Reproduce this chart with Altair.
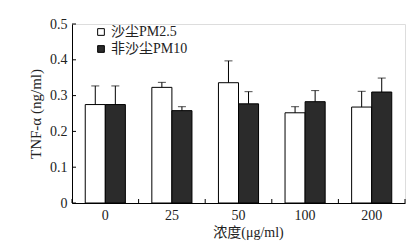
import altair as alt
import pandas as pd

categories = ["0", "25", "50", "100", "200"]
series = ["沙尘PM2.5", "非沙尘PM10"]
pm25_mean = [0.275, 0.323, 0.336, 0.252, 0.268]
pm25_sd = [0.052, 0.014, 0.061, 0.017, 0.044]
pm10_mean = [0.275, 0.258, 0.277, 0.283, 0.310]
pm10_sd = [0.052, 0.011, 0.034, 0.031, 0.039]
y_ticks = [0, 0.1, 0.2, 0.3, 0.4, 0.5]

rows = []
for i, c in enumerate(categories):
    rows.append({"conc": c, "group": series[0], "mean": pm25_mean[i], "upper": pm25_mean[i] + pm25_sd[i]})
    rows.append({"conc": c, "group": series[1], "mean": pm10_mean[i], "upper": pm10_mean[i] + pm10_sd[i]})
df = pd.DataFrame(rows)
cat_df = pd.DataFrame({"conc": categories})
last_df = pd.DataFrame({"conc": categories[-1:]})
ytick_df = pd.DataFrame({"v": y_ticks})

FONT = "Liberation Serif, Noto Sans CJK SC"
W, H = 333, 179

xscale = alt.Scale(domain=categories, paddingInner=0, paddingOuter=0)
yscale = alt.Scale(domain=[0, 0.5])

x_axis = alt.Axis(title="浓度(μg/ml)", labelAngle=0, ticks=False, domainColor="black",
                  labelFont=FONT, labelFontSize=14, labelColor="#222", labelPadding=5,
                  titleFont=FONT, titleFontSize=14, titleFontWeight="normal", titleColor="#222",
                  titlePadding=3, titleX=176)
y_axis = alt.Axis(title="TNF-α (ng/ml)", values=y_ticks, format=".1~f", ticks=False,
                  labelOverlap=False, domainColor="black", grid=False,
                  labelFont=FONT, labelFontSize=14, labelColor="#222", labelPadding=5,
                  titleFont=FONT, titleFontSize=15, titleFontWeight="normal", titleColor="#222",
                  titlePadding=6)

def X(bp=None):
    if bp is None:
        return alt.X("conc:N", scale=xscale, sort=categories, axis=x_axis)
    return alt.X("conc:N", scale=xscale, sort=categories, axis=x_axis, bandPosition=bp)

def Y(field):
    return alt.Y(field, scale=yscale, axis=y_axis)

xoff = alt.XOffset("group:N", sort=series,
                   scale=alt.Scale(domain=series, paddingInner=0, paddingOuter=0.66))

bars = alt.Chart(df).mark_bar(stroke="black", strokeWidth=1).encode(
    x=X(),
    xOffset=xoff,
    y=Y("mean:Q"),
    color=alt.Color("group:N", sort=series,
                    scale=alt.Scale(domain=series, range=["white", "#2b2b2b"]),
                    legend=alt.Legend(title=None, orient="none", legendX=22, legendY=1,
                                      symbolType="square", symbolSize=45, symbolStrokeColor="black",
                                      symbolStrokeWidth=1, labelFont=FONT, labelFontSize=14,
                                      labelColor="#222", rowPadding=3, labelOffset=3)),
)

err = alt.Chart(df).mark_rule(color="black", strokeWidth=1).encode(
    x=X(),
    xOffset=xoff,
    y=Y("mean:Q"),
    y2="upper:Q",
)

caps = alt.Chart(df).mark_tick(color="black", thickness=1, size=8, orient="horizontal").encode(
    x=X(),
    xOffset=xoff,
    y=Y("upper:Q"),
)

xticks = alt.Chart(cat_df).mark_rule(color="black", strokeWidth=1).encode(
    x=X(0),
    y=alt.value(H),
    y2=alt.value(H - 4),
)
xtick_end = alt.Chart(last_df).mark_rule(color="black", strokeWidth=1).encode(
    x=X(1),
    y=alt.value(H),
    y2=alt.value(H - 4),
)
yticks = alt.Chart(ytick_df).mark_rule(color="black", strokeWidth=1).encode(
    y=Y("v:Q"),
    x=alt.value(0),
    x2=alt.value(4),
)

chart = alt.layer(bars, err, caps, xticks, xtick_end, yticks).properties(
    width=W, height=H,
    autosize=alt.AutoSizeParams(type="none"),
    padding={"left": 64, "top": 16, "right": 3, "bottom": 40},
).configure_view(stroke=None).configure(background="white")

chart.save("out.html", embed_options={"renderer": "svg", "actions": False})
